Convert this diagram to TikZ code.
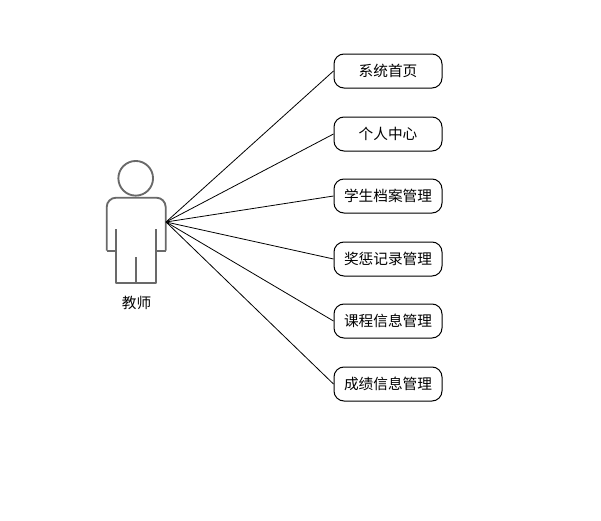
\documentclass[tikz,border=0pt]{standalone}
\usepackage{fontspec}
\setmainfont{Noto Sans CJK SC}
\definecolor{actorgray}{RGB}{105,105,105}
\usetikzlibrary{positioning}

\begin{document}
\begin{tikzpicture}[
        x=0.75pt, y=-0.75pt,
        usecase/.style={rectangle, draw=black, fill=white, line width=0.75pt, minimum width=81pt, minimum height=25.5pt, align=center, rounded corners=7.5pt, inner sep=0pt, font=\fontsize{11pt}{13pt}\selectfont},
        actorline/.style={draw=actorgray, line width=1.4pt, line join=round},
        link/.style={black, line width=0.6pt}
    ]
        \useasboundingbox (0,0) rectangle (601,521);

        % Actor
        \node[circle, actorline, minimum size=26pt, inner sep=0pt] (HEAD) at (135.7,178.3) {};
        \draw[actorline, rounded corners=7pt] (106.7,250.7) -- (106.7,197.7) -- (165.7,197.7) -- (165.7,250.7);
        \draw[actorline] (106.7,250.7) -- (116,250.7);
        \draw[actorline] (165.7,250.7) -- (155.7,250.7);
        \draw[actorline] (116,229) -- (116,283.3) -- (155.7,283.3) -- (155.7,229);
        \draw[actorline] (135.7,257.3) -- (135.7,283.3);
        \node[font=\fontsize{11pt}{13pt}\selectfont, inner sep=0pt] (TEACHER) at (136.5,303) {教师};
        \coordinate (ACTOR) at (166,222);

        % Use cases
        \node[usecase] (HOME) at (388,71) {系统首页};
        \node[usecase] (PERSONAL) at (388,134) {个人中心};
        \node[usecase] (ARCHIVE) at (388,196) {学生档案管理};
        \node[usecase] (REWARD) at (388,259) {奖惩记录管理};
        \node[usecase] (COURSE) at (388,321) {课程信息管理};
        \node[usecase] (GRADE) at (388,384) {成绩信息管理};

        % Connections to actor
        \draw[link] (ACTOR) -- (HOME.west);
        \draw[link] (ACTOR) -- (PERSONAL.west);
        \draw[link] (ACTOR) -- (ARCHIVE.west);
        \draw[link] (ACTOR) -- (REWARD.west);
        \draw[link] (ACTOR) -- (COURSE.west);
        \draw[link] (ACTOR) -- (GRADE.west);
    \end{tikzpicture}
\end{document}
